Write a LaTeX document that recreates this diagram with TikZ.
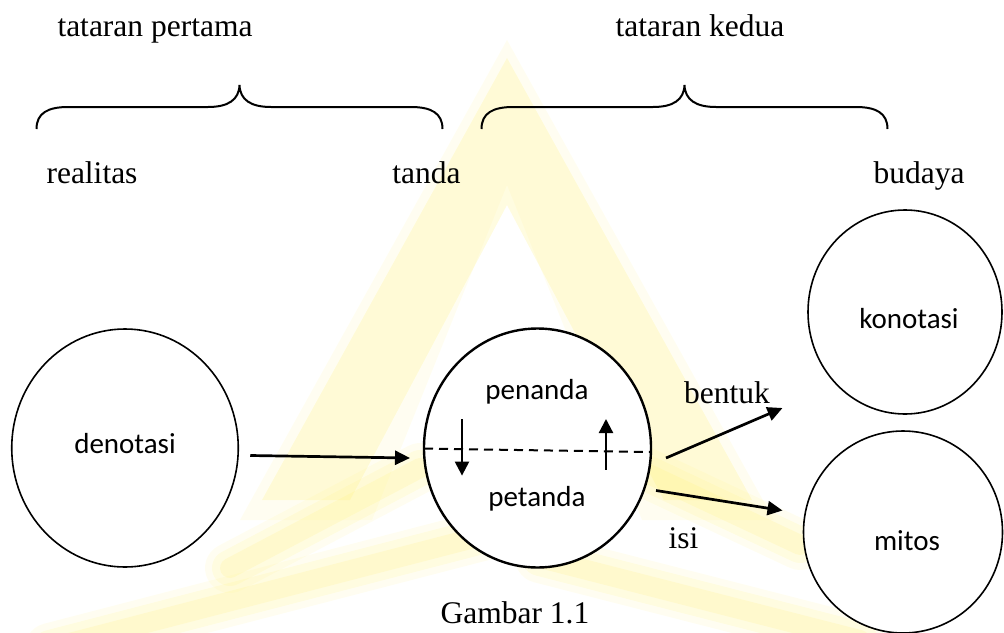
\documentclass[tikz,border=0pt]{standalone}
\usepackage{fontspec}
\setmainfont{Liberation Serif}
\newfontfamily\calibri{Carlito}
\usetikzlibrary{shapes.geometric,arrows.meta,calc}

\begin{document}
\begin{tikzpicture}[x=1pt,y=-1pt,
  serif/.style={font=\fontsize{31.5}{36}\selectfont, anchor=base, inner sep=0pt},
  sans/.style={font=\calibri\fontsize{29}{34}\selectfont, anchor=base, inner sep=0pt},
  bubble/.style={draw, fill=white, ellipse, line width=1.6pt, inner sep=0pt, outer sep=0pt},
  arr/.style={line width=2.7pt, -{Triangle[length=15pt,width=14pt]}},
  smallarr/.style={line width=2.3pt, -{Triangle[length=14pt,width=14pt]}},
  bracepath/.style={line width=2pt},
  wm/.style={fill=logoyellow, draw=none},
  stripe/.style={draw=logoyellow, line cap=round}
]
\definecolor{logoyellow}{RGB}{255,240,120}
\useasboundingbox (0,0) rectangle (1004,632);
\clip (0,0) rectangle (1004,632);

% faint logo in the background: an open "A" with soft wing stripes
\foreach \o in {0.12,0.12} {
  \fill[wm, opacity=\o] (507,58) -- (262,500) -- (350,500) -- (507,205) -- (664,500) -- (752,500) -- cycle;
}
\fill[wm, opacity=0.1] (507,40) -- (240,520) -- (372,520) -- (507,185) -- (642,520) -- (774,520) -- cycle;
\foreach \w/\o in {50/0.1, 36/0.14, 20/0.18} {
  \draw[stripe, line width=\w pt, opacity=\o] (230,568) -- (420,468);
  \draw[stripe, line width=\w pt, opacity=\o] (50,648) -- (505,530);
  \draw[stripe, line width=\w pt, opacity=\o] (640,470) -- (800,545);
  \draw[stripe, line width=\w pt, opacity=\o] (540,558) -- (860,640);
}

% braces over the two levels
\draw[bracepath] (36.5,129) .. controls (36.5,113) and (48,107) .. (68,107) -- (208,107)
  .. controls (228,107) and (239,100) .. (239.5,85)
  .. controls (240,100) and (251,107) .. (271,107) -- (411,107)
  .. controls (431,107) and (442.5,113) .. (442.5,129);
\begin{scope}[xshift=445pt]
\draw[bracepath] (36.5,129) .. controls (36.5,113) and (48,107) .. (68,107) -- (208,107)
  .. controls (228,107) and (239,100) .. (239.5,85)
  .. controls (240,100) and (251,107) .. (271,107) -- (411,107)
  .. controls (431,107) and (442.5,113) .. (442.5,129);
\end{scope}

% headings
\node[serif] (t1) at (155,36) {tataran pertama};
\node[serif] (t2) at (700,36) {tataran kedua};
\node[serif] (real) at (92,183.5) {realitas};
\node[serif] (tnd) at (426.5,183.5) {tanda};
\node[serif] (bud) at (919,183.5) {budaya};

% circles
\node[bubble, minimum width=226.5pt, minimum height=238pt] (den) at (125,448) {};
\node[bubble, line width=2.4pt, minimum width=227pt, minimum height=239pt] (tan) at (537.5,448) {};
\node[bubble, minimum width=194pt, minimum height=204pt] (kon) at (905,312) {};
\node[bubble, minimum width=199pt, minimum height=202pt] (mit) at (903,532) {};

% circle labels
\node[sans] (denl) at (125,453.6) {denotasi};
\node[sans] (pen) at (537,399) {penanda};
\node[sans] (pet) at (537,506) {petanda};
\node[sans] (konl) at (909,328.6) {konotasi};
\node[sans] (mitl) at (907,550.4) {mitos};

% arrow labels and caption
\node[serif] (ben) at (727,403) {bentuk};
\node[serif] (isi) at (683.5,548) {isi};
\node[serif] (cap) at (515,623) {Gambar 1.1};

% connectors
\draw[arr] ($(den.east)+(12,7.5)$) -- ($(tan.west)+(-14,10)$);
\draw[line width=2pt, dash pattern=on 9pt off 6pt] ($(tan.west)+(0,0.6)$) -- ($(tan.east)+(0,4)$);
\draw[smallarr] ($(tan.center)+(-75.5,-29)$) -- ($(tan.center)+(-75.5,27.6)$);
\draw[smallarr] ($(tan.center)+(68.5,21.6)$) -- ($(tan.center)+(68.5,-29)$);
\draw[arr] ($(tan.east)+(15,10)$) -- ($(kon.west)+(-25.5,96)$);
\draw[arr] ($(tan.east)+(5,42.5)$) -- ($(mit.west)+(-21,-21.5)$);
\end{tikzpicture}
\end{document}
